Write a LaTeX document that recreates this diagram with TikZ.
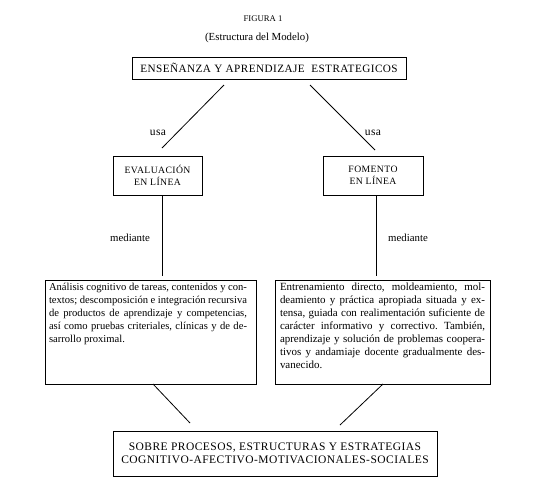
\documentclass[tikz,border=0pt]{standalone}
\usepackage{fontspec}
\setmainfont{Liberation Serif}
\newfontfamily\capsfont[LetterSpace=4]{Liberation Serif}
\newfontfamily\lblfont[LetterSpace=3]{Liberation Serif}
\frenchspacing
\begin{document}
\begin{tikzpicture}[x=1pt,y=-1pt,
  every node/.style={inner sep=0pt, outer sep=0pt},
  box/.style={draw, line width=0.8pt},
  capbox/.style={box, font=\capsfont\fontsize{9.7}{12.5}\selectfont, align=center},
  lbl/.style={font=\lblfont\fontsize{11.5}{13}\selectfont},
  medl/.style={font=\fontsize{10.8}{12}\selectfont},
  body/.style={font=\frenchspacing\fontsize{10.6}{13}\selectfont, align=justify, anchor=north west},
  conn/.style={line width=0.8pt}]
\useasboundingbox[fill=white] (0,0) rectangle (538,480);

\node[font=\fontsize{8.7}{10}\selectfont] (fig) at (263,19) {FIGURA 1};
\node[font=\fontsize{10.8}{12}\selectfont] (sub) at (257,38) {(Estructura del Modelo)};

\node[capbox, minimum width=274pt, minimum height=22pt, font=\capsfont\fontsize{11.2}{13}\selectfont] (top) at (269,68) {ENSEÑANZA Y APRENDIZAJE\ \ ESTRATEGICOS};

\node[capbox, minimum width=89pt, minimum height=39pt] (eval) at (157.5,175.5) {EVALUACIÓN\\EN LÍNEA};
\node[capbox, minimum width=100pt, minimum height=39pt] (fom) at (373,175.5) {FOMENTO\\EN LÍNEA};

\node[box, minimum width=211pt, minimum height=104pt] (lbox) at (150.5,332) {};
\node[body, text width=198pt] (ltext) at (49,283) {Análisis cognitivo de tareas, contenidos y con-\linebreak textos; descomposición e integración recursiva\linebreak de productos de aprendizaje y competencias,\linebreak así como pruebas criteriales, clínicas y de de-\linebreak sarrollo proximal.};

\node[box, minimum width=215pt, minimum height=104pt] (rbox) at (382.5,332) {};
\node[body, text width=205pt, font=\frenchspacing\fontsize{10.95}{13}\selectfont] (rtext) at (280,283) {Entrenamiento directo, moldeamiento, mol-\linebreak deamiento y práctica apropiada situada y ex-\linebreak tensa, guiada con realimentación suficiente de\linebreak carácter informativo y correctivo. También,\linebreak aprendizaje y solución de problemas coopera-\linebreak tivos y andamiaje docente gradualmente des-\linebreak vanecido.};

\node[capbox, minimum width=324pt, minimum height=45pt, font=\capsfont\fontsize{11.5}{13}\selectfont] (bot) at (275,453.5) {SOBRE PROCESOS, ESTRUCTURAS Y ESTRATEGIAS\\COGNITIVO-AFECTIVO-MOTIVACIONALES-SOCIALES};

% connectors
\coordinate (a1) at (224,85);
\coordinate (a2) at (162,148);
\coordinate (b1) at (310,85);
\coordinate (b2) at (375,150);
\draw[conn] (a1) -- (a2);
\draw[conn] (b1) -- (b2);
\node[lbl] (usa1) at (158,133) {usa};
\node[lbl] (usa2) at (373,133) {usa};

\coordinate (c2) at (162,276);
\coordinate (d2) at (376,276);
\draw[conn] (eval.south -| c2) -- (c2);
\draw[conn] (fom.south -| d2) -- (d2);
\node[medl] (med1) at (130,238) {mediante};
\node[medl] (med2) at (408,238) {mediante};

\coordinate (e1) at (153,384);
\coordinate (e2) at (190,423);
\coordinate (f1) at (383,384);
\coordinate (f2) at (340,425);
\draw[conn] (e1) -- (e2);
\draw[conn] (f1) -- (f2);
\end{tikzpicture}
\end{document}
